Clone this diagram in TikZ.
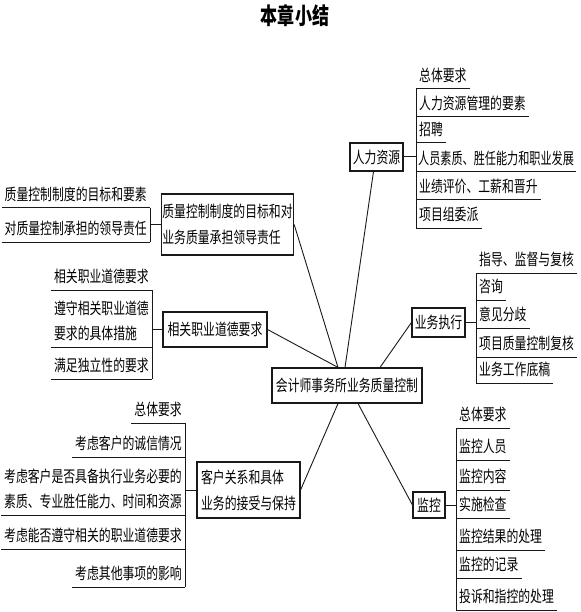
\documentclass[tikz,border=0pt]{standalone}
\usepackage{fontspec}
\newfontfamily\cjk{Noto Sans CJK SC}[FakeStretch=0.74]
\newfontfamily\cjkn{Noto Sans CJK SC}[FakeStretch=0.695]
\usetikzlibrary{positioning}
\definecolor{tinta}{RGB}{25,25,25}
\tikzset{
  kuang/.style={draw=tinta, line width=1.1pt, align=left, inner sep=1pt, font=\cjk\fontsize{16}{26}\selectfont},
  xian/.style={draw=tinta, line width=1pt},
  lian/.style={draw=tinta, line width=0.9pt},
  xiangr/.style={anchor=south west, align=left, inner xsep=3pt, inner ysep=5pt, text depth=2pt,
    font=\cjk\fontsize{16}{25}\selectfont,
    append after command={(\tikzlastnode.south west) edge[xian] (\tikzlastnode.south east)}},
  xiangl/.style={xiangr, anchor=south east},
  biaoti/.style={font=\cjk\fontsize{23}{23}\selectfont\bfseries, inner sep=0pt},
}

\begin{document}
\begin{tikzpicture}[x=1pt,y=-1pt]
  \fill[white] (0,0) rectangle (580,612);
  \clip (0,0) rectangle (580,612);
  \node[biaoti] (tit) at (295,16) {本章小结};
  % centre and the six topics
  \node[kuang, minimum width=150pt, minimum height=35pt] (ctr) at (347,385.5) {会计师事务所业务质量控制};
  \node[kuang, minimum width=53pt, minimum height=28pt] (hr) at (376.5,157) {人力资源};
  \node[kuang, minimum width=131pt, minimum height=61pt] (qc) at (227.5,224.5) {质量控制制度的目标和对\\业务质量承担领导责任};
  \node[kuang, minimum width=104pt, minimum height=35pt] (eth) at (215,329.5) {相关职业道德要求};
  \node[kuang, minimum width=103pt, minimum height=56pt] (cli) at (248.5,490) {客户关系和具体\\业务的接受与保持};
  \node[kuang, minimum width=53pt, minimum height=29pt] (exe) at (438.5,322.5) {业务执行};
  \node[kuang, minimum width=32pt, minimum height=26pt] (mon) at (429,505) {监控};
  \draw[lian] ([xshift=-3pt]hr.south) -- ([xshift=-2pt]ctr.north);
  \draw[lian] (qc.east) -- ([xshift=-9pt]ctr.north); \draw[lian] (eth.east) -- ([xshift=-9pt]ctr.north);
  \draw[lian] (exe.west) -- ([xshift=33pt]ctr.north);
  \draw[lian] (cli.east) -- ([xshift=-9pt]ctr.south); \draw[lian] (mon.west) -- ([xshift=11pt]ctr.south);
  % 人力资源
  \node[xiangr] (hr0) at (416,89) {总体要求};
  \node[xiangr] (hr1) at (416,117) {人力资源管理的要素};
  \node[xiangr] (hr2) at (416,143) {招聘};
  \node[xiangr, inner xsep=2pt, font=\cjkn\fontsize{16}{25}\selectfont] (hr3) at (416,172) {人员素质、胜任能力和职业发展};
  \node[xiangr] (hr4) at (416,200) {业绩评价、工薪和晋升};
  \node[xiangr] (hr5) at (416,228) {项目组委派};
  \draw[xian] (hr0.south west) -- (hr5.south west); \draw[xian] (hr.east) -- (hr.east -| hr0.south west);
  % 业务执行
  \node[xiangr] (ex0) at (476,273) {指导、监督与复核};
  \node[xiangr] (ex1) at (476,300) {咨询};
  \node[xiangr] (ex2) at (476,328) {意见分歧};
  \node[xiangr] (ex3) at (476,357) {项目质量控制复核};
  \node[xiangr] (ex4) at (476,383) {业务工作底稿};
  \draw[xian] (ex0.south west) -- (ex4.south west); \draw[xian] (exe.east) -- (exe.east -| ex0.south west);
  % 监控
  \node[xiangr] (mo0) at (456,428) {总体要求};
  \node[xiangr] (mo1) at (456,460) {监控人员};
  \node[xiangr] (mo2) at (456,490) {监控内容};
  \node[xiangr] (mo3) at (456,518) {实施检查};
  \node[xiangr] (mo4) at (456,550) {监控结果的处理};
  \node[xiangr] (mo5) at (456,578) {监控的记录};
  \node[xiangr] (mo6) at (456,610) {投诉和指控的处理};
  \draw[xian] (mo0.south west) -- (mo6.south west); \draw[xian] (mon.east) -- (mon.east -| mo0.south west);
  % 质量控制制度
  \node[xiangl] (qc0) at (150,208) {质量控制制度的目标和要素};
  \node[xiangl] (qc1) at (150,242) {对质量控制承担的领导责任};
  \draw[xian] (qc0.south east) -- (qc1.south east); \draw[xian] (qc.west) -- (qc.west -| qc0.south east);
  % 相关职业道德要求
  \node[xiangl] (et0) at (152,290) {相关职业道德要求};
  \node[xiangl] (et1) at (152,347) {遵守相关职业道德\\要求的具体措施};
  \node[xiangl] (et2) at (152,379) {满足独立性的要求};
  \draw[xian] (et0.south east) -- (et2.south east); \draw[xian] (eth.west) -- (eth.west -| et0.south east);
  % 客户关系和具体业务
  \node[xiangl] (cl0) at (185,423) {总体要求};
  \node[xiangl] (cl1) at (185,457) {考虑客户的诚信情况};
  \node[xiangl] (cl2) at (185,515) {考虑客户是否具备执行业务必要的\\素质、专业胜任能力、时间和资源};
  \node[xiangl] (cl3) at (185,549) {考虑能否遵守相关的职业道德要求};
  \node[xiangl] (cl4) at (185,587) {考虑其他事项的影响};
  \draw[xian] (cl0.south east) -- (cl4.south east); \draw[xian] (cli.west) -- (cli.west -| cl0.south east);
\end{tikzpicture}
\end{document}
